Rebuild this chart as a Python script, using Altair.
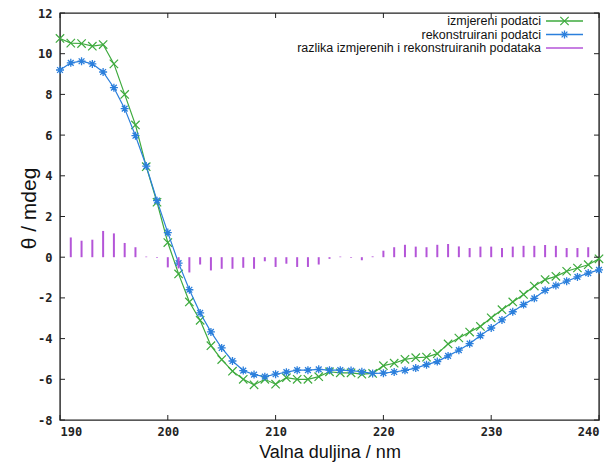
import altair as alt
import pandas as pd

# wavelength (nm)
nm = list(range(190, 241))

# measured data (green, x markers)
izmjereni = [10.75, 10.52, 10.50, 10.37, 10.45, 9.50, 8.00, 6.50, 4.45, 2.70,
             0.72, -0.82, -2.20, -3.10, -4.35, -5.03, -5.60, -6.00, -6.27, -6.00,
             -6.24, -5.92, -6.00, -6.00, -5.87, -5.63, -5.68, -5.68, -5.75, -5.71,
             -5.33, -5.21, -5.02, -4.94, -4.91, -4.74, -4.26, -3.97, -3.68, -3.40,
             -2.98, -2.58, -2.20, -1.83, -1.42, -1.10, -0.94, -0.69, -0.53, -0.37,
             -0.08]

# reconstructed data (blue, asterisk markers)
rekonstruirani = [9.20, 9.55, 9.63, 9.50, 9.10, 8.33, 7.30, 5.97, 4.48, 2.78,
                  1.21, -0.29, -1.60, -2.74, -3.67, -4.46, -5.10, -5.57, -5.77, -5.87,
                  -5.75, -5.65, -5.55, -5.55, -5.51, -5.55, -5.55, -5.57, -5.63, -5.71,
                  -5.70, -5.64, -5.56, -5.45, -5.28, -5.13, -4.85, -4.57, -4.25, -3.85,
                  -3.48, -3.08, -2.68, -2.33, -2.02, -1.63, -1.39, -1.18, -0.97, -0.78,
                  -0.62]

# difference (purple impulses), 191..239 nm
nm_razlika = list(range(191, 240))
razlika = [0.97, 0.81, 0.86, 1.29, 1.17, 0.70, 0.49, 0.03, -0.03, -0.50,
           -0.55, -0.75, -0.36, -0.65, -0.57, -0.57, -0.52, -0.57, -0.20, -0.48,
           -0.32, -0.48, -0.48, -0.36, -0.08, 0.03, -0.03, -0.15, 0.04, 0.32,
           0.49, 0.61, 0.52, 0.49, 0.61, 0.65, 0.53, 0.45, 0.52, 0.52,
           0.45, 0.52, 0.56, 0.56, 0.60, 0.56, 0.45, 0.45, 0.49]

x_ticks = [190, 200, 210, 220, 230, 240]
y_ticks = [-8, -6, -4, -2, 0, 2, 4, 6, 8, 10, 12]

legend_labels = ["izmjereni podatci", "rekonstruirani podatci",
                 "razlika izmjerenih i rekonstruiranih podataka"]

GREEN = "#3daa3d"
BLUE = "#2b7fdc"
PURPLE = "#b455d8"
X_SHAPE = "M-1,-1L1,1M-1,1L1,-1"
AST_SHAPE = "M-1,0L1,0M0,-1L0,1M-0.72,-0.72L0.72,0.72M-0.72,0.72L0.72,-0.72"

df = pd.DataFrame({"nm": nm, "izm": izmjereni, "rek": rekonstruirani})
df_d = pd.DataFrame({"nm": nm_razlika, "diff": razlika})
df_xt = pd.DataFrame({"v": x_ticks})
df_yt = pd.DataFrame({"v": y_ticks})

W, H = 539, 407
PAD_TOP, PAD_BOTTOM = 5, 42

xscale = alt.Scale(domain=[190, 240], nice=False, zero=False)
yscale = alt.Scale(domain=[-8, 12], nice=False, zero=False)

x_axis = alt.Axis(values=x_ticks, title="Valna duljina / nm", grid=False, ticks=False,
                  domain=False, labelFont="DejaVu Sans Mono", labelFontWeight="bold",
                  labelFontSize=12, labelColor="#222", labelPadding=6,
                  titleFont="Liberation Sans", titleFontSize=18, titleFontWeight="normal",
                  titleColor="#111", titleY=PAD_BOTTOM - 0.5, titleBaseline="bottom",
                  labelExpr="toString(datum.value)")
y_axis = alt.Axis(values=y_ticks, title="θ / mdeg", grid=False, ticks=False,
                  domain=False, labelFont="DejaVu Sans Mono", labelFontWeight="bold",
                  labelFontSize=12, labelColor="#222", labelPadding=8,
                  titleFont="Liberation Sans", titleFontSize=21, titleFontWeight="normal",
                  titleColor="#111", titleX=-31, titleY=195, titleAngle=-90,
                  titleBaseline="middle", titleAlign="center",
                  labelExpr="toString(datum.value)")

base = alt.Chart(df)

green_line = base.mark_line(color=GREEN, strokeWidth=1.2).encode(
    x=alt.X("nm:Q", scale=xscale, axis=x_axis),
    y=alt.Y("izm:Q", scale=yscale, axis=y_axis))
green_pts = base.mark_point(shape=X_SHAPE, filled=False, size=70, color=GREEN,
                            strokeWidth=1.2, opacity=1).encode(
    x=alt.X("nm:Q", scale=xscale), y=alt.Y("izm:Q", scale=yscale))

blue_line = base.mark_line(color=BLUE, strokeWidth=1.2).encode(
    x=alt.X("nm:Q", scale=xscale), y=alt.Y("rek:Q", scale=yscale))
blue_pts = base.mark_point(shape=AST_SHAPE, filled=False, size=64, color=BLUE,
                           strokeWidth=1.3, opacity=1).encode(
    x=alt.X("nm:Q", scale=xscale), y=alt.Y("rek:Q", scale=yscale))

impulses = alt.Chart(df_d).mark_rule(color=PURPLE, strokeWidth=2).encode(
    x=alt.X("nm:Q", scale=xscale),
    y=alt.Y("diff:Q", scale=yscale),
    y2=alt.datum(0))

TL = 5
tick_bottom = alt.Chart(df_xt).mark_rule(color="#222", strokeWidth=1).encode(
    x=alt.X("v:Q", scale=xscale), y=alt.value(H), y2=alt.value(H - TL))
tick_top = alt.Chart(df_xt).mark_rule(color="#222", strokeWidth=1).encode(
    x=alt.X("v:Q", scale=xscale), y=alt.value(0), y2=alt.value(TL))
tick_left = alt.Chart(df_yt).mark_rule(color="#222", strokeWidth=1).encode(
    y=alt.Y("v:Q", scale=yscale), x=alt.value(0), x2=alt.value(TL))
tick_right = alt.Chart(df_yt).mark_rule(color="#222", strokeWidth=1).encode(
    y=alt.Y("v:Q", scale=yscale), x=alt.value(W), x2=alt.value(W - TL))

# gnuplot-style legend (label, then sample) in the top-right corner
one = alt.Data(values=[{"k": 1}])
leg_y = [8, 21.5, 35]
leg_cols = [GREEN, BLUE, PURPLE]
legend_layers = []
for i, (lab, col) in enumerate(zip(legend_labels, leg_cols)):
    legend_layers.append(
        alt.Chart(one).mark_text(align="right", baseline="middle", font="Liberation Sans",
                                 fontSize=12.5, color="#111").encode(
            x=alt.value(481), y=alt.value(leg_y[i]), text=alt.value(lab)))
    legend_layers.append(
        alt.Chart(one).mark_rule(color=col, strokeWidth=1.3 if i < 2 else 1.6).encode(
            x=alt.value(486), x2=alt.value(523), y=alt.value(leg_y[i])))
legend_layers.append(
    alt.Chart(one).mark_point(shape=X_SHAPE, filled=False, size=70, color=GREEN,
                              strokeWidth=1.2, opacity=1).encode(
        x=alt.value(504.5), y=alt.value(leg_y[0])))
legend_layers.append(
    alt.Chart(one).mark_point(shape=AST_SHAPE, filled=False, size=64, color=BLUE,
                              strokeWidth=1.3, opacity=1).encode(
        x=alt.value(504.5), y=alt.value(leg_y[1])))

chart = alt.layer(
    green_line, green_pts, blue_line, blue_pts, impulses,
    tick_bottom, tick_top, tick_left, tick_right, *legend_layers
).properties(
    width=W, height=H,
    autosize=alt.AutoSizeParams(type="none"),
    padding={"left": 52, "top": PAD_TOP, "right": 6, "bottom": PAD_BOTTOM},
    background="white"
).configure_view(
    stroke="#222", strokeWidth=1.4
)

chart.save("out.html", embed_options={"renderer": "svg", "actions": False})
